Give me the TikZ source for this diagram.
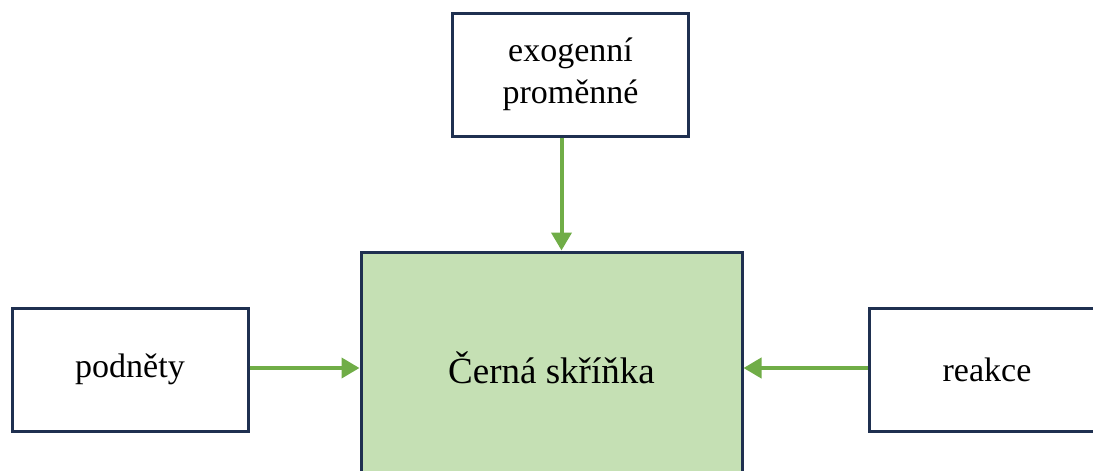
\documentclass[tikz,border=0pt]{standalone}
\usepackage{fontspec}
\setmainfont{Liberation Serif}
\usetikzlibrary{positioning,arrows.meta}
\definecolor{navy}{HTML}{1F3050}
\definecolor{leaf}{HTML}{70AD47}
\definecolor{pale}{HTML}{C5E0B4}
\begin{document}
\begin{tikzpicture}[x=1pt,y=-1pt]
  \tikzstyle{box}=[
    draw=navy, rectangle,
    line width=3pt,
    fill=white,
    minimum width=236pt,
    minimum height=123pt,
    align=center,
    font=\fontsize{34}{42}\selectfont
  ]
  \tikzstyle{bigbox}=[box,
    fill=pale,
    minimum width=381pt,
    minimum height=232pt,
    font=\fontsize{37}{40}\selectfont
  ]
  \tikzstyle{arr}=[leaf, line width=4pt, -{Triangle[length=18pt,width=20pt]}]

  \useasboundingbox (0,0) rectangle (1093,471);
  \clip (0,0) rectangle (1093,471);

  \node[bigbox] (cerna) at (551.5,368) {Černá skříňka};
  \node[box] (exo) at (570.5,74.5) {exogenní\\proměnné};
  \node[box] (podnety) at (130,369.5) {podněty};
  \node[box] (reakce) at (987,369.5) {reakce};

  \draw[arr] ([xshift=-9pt]exo.south) -- ([xshift=-9pt]exo.south |- cerna.north);
  \draw[arr] (podnety.east |- cerna.west) -- (cerna.west);
  \draw[arr] (reakce.west |- cerna.east) -- (cerna.east);
\end{tikzpicture}
\end{document}
